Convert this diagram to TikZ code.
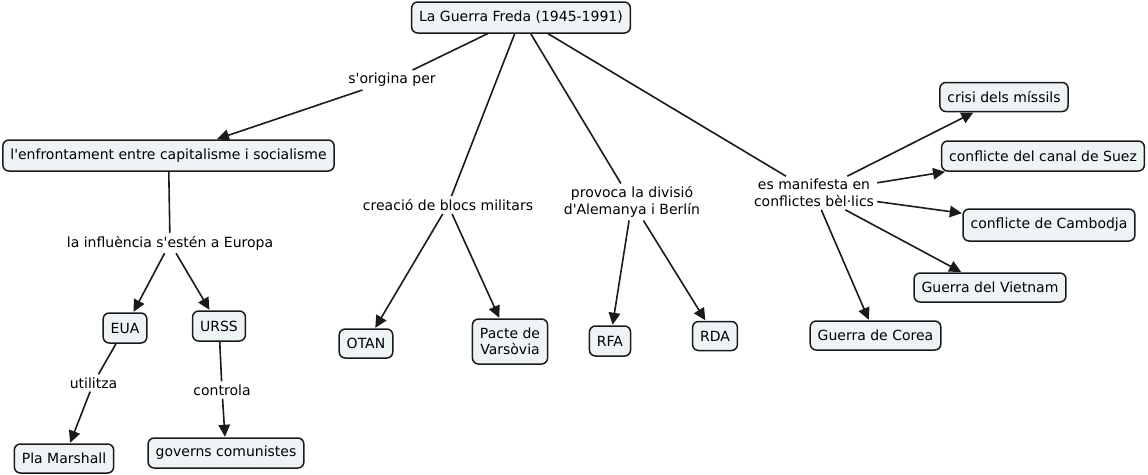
\documentclass[tikz,border=0pt]{standalone}
\usepackage{fontspec}
\newfontfamily\dvs{DejaVu Sans}
\usetikzlibrary{arrows.meta}
\definecolor{boxfill}{HTML}{EEF3F6}
\definecolor{ink}{HTML}{1A1A1A}
\tikzset{
  concept/.style={draw=ink, line width=1.5pt, fill=boxfill, rounded corners=6pt,
    inner xsep=7.5pt, inner ysep=0pt, minimum height=30pt,
    font=\dvs\fontsize{14}{16}\selectfont, align=center},
  linkl/.style={inner sep=3pt, font=\dvs\fontsize{14}{16.5}\selectfont, align=center},
  conn/.style={draw=ink, line width=1.6pt},
  arr/.style={conn, -{Triangle[length=12pt,width=11.5pt]}, shorten >=0.5pt}
}
\begin{document}
\begin{tikzpicture}[x=1pt,y=-1pt]
\useasboundingbox (0,0) rectangle (1148,474);
% concepts
\node[concept, minimum height=31pt] (title) at (521,17.5) {La Guerra Freda (1945-1991)};
\node[concept, minimum height=31pt] (enf) at (168.5,155.5) {l'enfrontament entre capitalisme i socialisme};
\node[concept] (eua) at (125,328) {EUA};
\node[concept] (urss) at (219,326) {URSS};
\node[concept, minimum height=29pt] (pla) at (64,458.5) {Pla Marshall};
\node[concept] (gov) at (226,453) {governs comunistes};
\node[concept, minimum height=29pt] (otan) at (366,343.5) {OTAN};
\node[concept, minimum height=45pt] (pacte) at (510,341.5) {Pacte de\\Varsòvia};
\node[concept] (rfa) at (610,341) {RFA};
\node[concept, minimum height=29pt] (rda) at (715,336) {RDA};
\node[concept, minimum height=29pt] (corea) at (875.5,335.5) {Guerra de Corea};
\node[concept, minimum height=29pt] (crisi) at (1004,97) {crisi dels míssils};
\node[concept] (suez) at (1043,156) {conflicte del canal de Suez};
\node[concept, minimum height=32pt] (camb) at (1049,225) {conflicte de Cambodja};
\node[concept, minimum height=29pt] (viet) at (990,287.5) {Guerra del Vietnam};
% linking phrases
\node[linkl] (lorig) at (392,80) {s'origina per};
\node[linkl] (lcrea) at (448,205) {creació de blocs militars};
\node[linkl] (lprov) at (632,202) {provoca la divisió\\d'Alemanya i Berlín};
\node[linkl] (lmani) at (814,193) {es manifesta en\\conflictes bèl·lics};
\node[linkl] (linf) at (170,243) {la influència s'estén a Europa};
\node[linkl] (lutil) at (93.5,383) {utilitza};
\node[linkl] (lcont) at (222,390) {controla};
% connectors
\draw[conn] (title) -- (lorig);
\draw[arr] (lorig) -- (enf);
\draw[conn] (title) -- (lcrea);
\draw[conn] (title) -- (lprov);
\draw[conn] (title) -- (lmani);
\draw[arr] (lcrea) -- (otan);
\draw[arr] (lcrea) -- (pacte);
\draw[arr] (lprov) -- (rfa);
\draw[arr] (lprov) -- (rda);
\draw[arr] (lmani) -- (crisi);
\draw[arr] (lmani) -- (suez);
\draw[arr] (lmani) -- (camb);
\draw[arr] (lmani) -- (viet);
\draw[arr] (lmani) -- (corea);
\draw[conn] (enf) -- (linf);
\draw[arr] (linf) -- (eua);
\draw[arr] (linf) -- (urss);
\draw[conn] (eua) -- (lutil);
\draw[arr] (lutil) -- (pla);
\draw[conn] (urss) -- (lcont);
\draw[arr] (lcont) -- (gov);
\end{tikzpicture}
\end{document}
